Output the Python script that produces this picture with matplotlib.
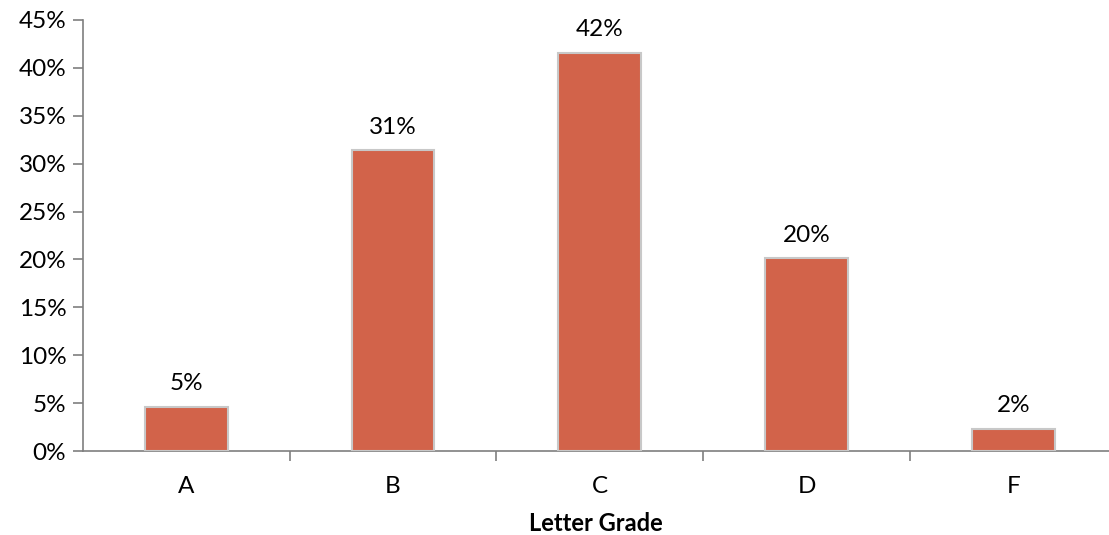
import matplotlib
matplotlib.use("Agg")
import matplotlib.pyplot as plt
from matplotlib.ticker import FuncFormatter

# Share of students per letter grade (percent)
grades = ['A', 'B', 'C', 'D', 'F']
shares = [4.6, 31.4, 41.6, 20.1, 2.3]
y_ticks = [0, 5, 10, 15, 20, 25, 30, 35, 40, 45]

plt.rcParams['font.family'] = ['Lato', 'DejaVu Sans']

fig = plt.figure(figsize=(11.09, 5.35), dpi=100)
ax = fig.add_axes([83 / 1109, 84 / 535, 1026 / 1109, 431 / 535])

x = range(len(grades))
bars = ax.bar(x, shares, width=0.4, color='#D2634A', edgecolor='#C8C8C8', linewidth=1.5, zorder=3)

# value labels above each bar
for bar, val in zip(bars, shares):
    ax.annotate(f'{val:.0f}%', (bar.get_x() + bar.get_width() / 2, bar.get_height()),
                xytext=(0, 9), textcoords='offset points', ha='center', va='bottom', fontsize=17.5)

ax.set_xlim(-0.5, 4.463)
ax.set_ylim(0, 45)
ax.set_yticks(y_ticks)
ax.yaxis.set_major_formatter(FuncFormatter(lambda v, p: f'{v:.0f}%'))

# category labels centred, tick marks on the boundaries
ax.set_xticks([i + 0.5 for i in range(len(grades) - 1)])
ax.set_xticklabels([])
ax.set_xticks(list(x), minor=True)
ax.set_xticklabels(grades, minor=True)
ax.tick_params(axis='x', which='minor', length=0, pad=18, labelsize=17.5)
ax.tick_params(axis='x', which='major', length=7, color='#7F7F7F', width=1.2)
ax.tick_params(axis='y', length=7, color='#7F7F7F', width=1.2, labelsize=17.5, pad=5)

for side in ['top', 'right']:
    ax.spines[side].set_visible(False)
for side in ['left', 'bottom']:
    ax.spines[side].set_color('#7F7F7F')
    ax.spines[side].set_linewidth(1.2)

ax.set_xlabel('Letter Grade', fontsize=17, fontweight='bold', labelpad=11)

fig.savefig('out.png', dpi=100)
